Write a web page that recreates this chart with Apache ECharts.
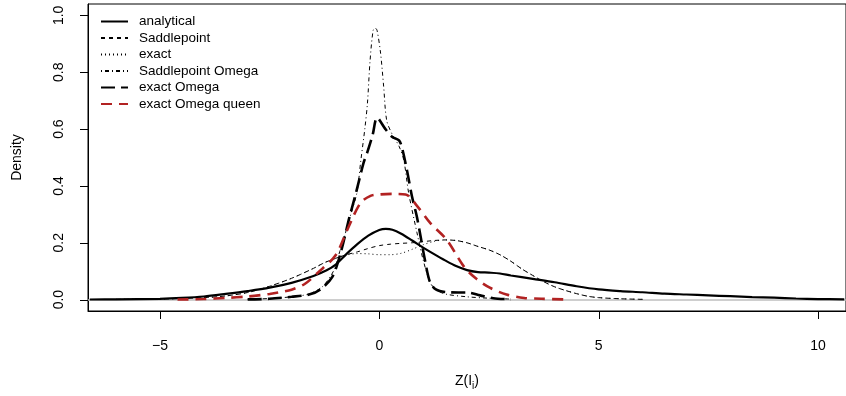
<!DOCTYPE html>
<html>
<head>
<meta charset="utf-8">
<script src="https://cdn.jsdelivr.net/npm/echarts@6/dist/echarts.min.js"></script>
<style>
html,body{margin:0;padding:0;background:#fff;}
#chart{width:846px;height:396px;}
</style>
</head>
<body>
<div id="chart"></div>
<script>
// ---- data ----
const seriesNames = ["analytical", "Saddlepoint", "exact", "Saddlepoint Omega", "exact Omega", "exact Omega queen"];
const xTicks = [-5, 0, 5, 10];
const yTicks = [0, 0.2, 0.4, 0.6, 0.8, 1.0];

const analyticalX = [-6.6,-6,-5,-4.5,-4,-3.5,-3,-2.5,-2,-1.5,-1.2,-1,-0.75,-0.5,-0.25,0,0.15,0.3,0.5,0.75,1,1.25,1.5,1.75,2,2.25,2.5,2.75,3,3.5,4,4.5,5,5.5,6,6.5,7,7.5,8,8.5,9,9.5,10,10.6];
const analyticalY = [0.0005,0.001,0.003,0.006,0.011,0.02,0.03,0.042,0.059,0.083,0.103,0.122,0.16,0.195,0.225,0.245,0.249,0.246,0.232,0.208,0.183,0.16,0.138,0.118,0.104,0.097,0.095,0.092,0.085,0.073,0.061,0.047,0.036,0.03,0.026,0.021,0.018,0.015,0.012,0.009,0.007,0.004,0.002,0.001];

const saddleX = [-6,-5,-4.5,-4,-3.5,-3,-2.5,-2,-1.5,-1.25,-1,-0.75,-0.5,-0.25,0,0.25,0.5,0.75,1,1.25,1.5,1.75,2,2.25,2.5,2.75,3,3.25,3.5,3.75,4,4.25,4.5,4.75,5,5.5,6];
const saddleY = [0.001,0.002,0.004,0.007,0.013,0.025,0.047,0.075,0.11,0.13,0.145,0.158,0.168,0.18,0.19,0.195,0.198,0.2,0.204,0.208,0.21,0.208,0.2,0.187,0.175,0.158,0.135,0.108,0.085,0.063,0.045,0.032,0.021,0.012,0.007,0.003,0.001];

const exactX = [-6,-5,-4.5,-4,-3.5,-3,-2.5,-2,-1.5,-1.25,-1,-0.75,-0.5,-0.25,0,0.25,0.5,0.75,1,1.25,1.5,1.75,2,2.25,2.5,2.75,3,3.25,3.5,3.75,4,4.25,4.5,4.75,5,5.5,6];
const exactY = [0.001,0.002,0.004,0.007,0.013,0.025,0.047,0.075,0.11,0.13,0.145,0.157,0.162,0.161,0.158,0.158,0.163,0.177,0.193,0.205,0.21,0.208,0.2,0.187,0.175,0.158,0.135,0.108,0.085,0.063,0.045,0.032,0.021,0.012,0.007,0.003,0.001];

const saddleOmegaX = [-3,-2.5,-2,-1.6,-1.3,-1.1,-1.0,-0.9,-0.77,-0.65,-0.51,-0.42,-0.33,-0.27,-0.21,-0.14,-0.09,-0.05,0.03,0.1,0.17,0.3,0.45,0.56,0.67,0.86,1.0,1.16,1.3,1.5,2,2.5,3];
const saddleOmegaY = [0.001,0.004,0.01,0.02,0.045,0.085,0.116,0.17,0.235,0.3,0.376,0.49,0.6,0.69,0.84,0.947,0.955,0.947,0.867,0.75,0.63,0.58,0.54,0.49,0.375,0.235,0.14,0.06,0.035,0.02,0.01,0.005,0.002];

const exactOmegaX = [-3,-2.5,-2,-1.6,-1.35,-1.07,-0.88,-0.68,-0.54,-0.36,-0.27,-0.15,-0.05,0.14,0.29,0.45,0.52,0.63,0.75,0.86,1.04,1.16,1.3,1.5,1.8,2.0,2.3,2.6,3];
const exactOmegaY = [0.001,0.003,0.01,0.018,0.035,0.08,0.165,0.29,0.37,0.48,0.52,0.58,0.64,0.6,0.573,0.56,0.533,0.456,0.36,0.29,0.14,0.06,0.035,0.027,0.025,0.025,0.015,0.005,0.001];

const queenX = [-4.6,-4,-3.5,-3,-2.5,-2.3,-2,-1.7,-1.4,-1.0,-0.73,-0.43,-0.2,0,0.3,0.6,0.86,1.16,1.54,1.93,2.2,2.52,2.9,3.3,3.7,4.2];
const queenY = [0.0005,0.002,0.006,0.011,0.02,0.025,0.035,0.055,0.095,0.155,0.245,0.34,0.365,0.37,0.372,0.37,0.33,0.27,0.21,0.116,0.075,0.042,0.018,0.006,0.003,0.001];

// ---- build ----
function pairs(xs, ys){ return xs.map((x,i)=>[x, ys[i]]); }
const FONT = "Liberation Sans, Arial, Helvetica, sans-serif";
const X_MIN = -6.64, X_MAX = 10.64, Y_MIN = -0.04, Y_MAX = 1.04;

const styles = [
  {color:'#000', width:2.2, type:'solid'},
  {color:'#000', width:1, type:[4,4]},
  {color:'#000', width:1, type:[1,3]},
  {color:'#000', width:1, type:[1,3,4,3]},
  {color:'#000', width:2.6, type:[14,6]},
  {color:'#b22222', width:2.6, type:[11,7]}
];
const dataSets = [
  pairs(analyticalX, analyticalY),
  pairs(saddleX, saddleY),
  pairs(exactX, exactY),
  pairs(saddleOmegaX, saddleOmegaY),
  pairs(exactOmegaX, exactOmegaY),
  pairs(queenX, queenY)
];

const series = seriesNames.map((name, i) => {
  const s = {
    name: name,
    type: 'line',
    data: dataSets[i],
    symbol: 'none',
    smooth: 0.3,
    color: styles[i].color,
    lineStyle: {color: styles[i].color, width: styles[i].width, type: styles[i].type},
    emphasis: {disabled: true},
    z: 3 + i
  };
  if (i === 0) {
    s.markLine = {
      silent: true, symbol: 'none', animation: false,
      label: {show: false},
      lineStyle: {color: '#bebebe', width: 1.5, type: 'solid'},
      data: [{yAxis: 0}],
      z: 1
    };
  }
  return s;
});

const chart = echarts.init(document.getElementById('chart'), null, {renderer: 'canvas'});
chart.setOption({
  animation: false,
  backgroundColor: '#fff',
  textStyle: {fontFamily: FONT},
  grid: {left: 88, top: 4, width: 762, height: 308, show: true, borderColor: '#000', borderWidth: 1},
  legend: {
    data: seriesNames,
    orient: 'vertical',
    left: 100, top: 14.5,
    padding: 0,
    itemWidth: 27, itemHeight: 14, itemGap: 2.5,
    itemStyle: {opacity: 0, borderWidth: 0},
    textStyle: {fontFamily: FONT, fontSize: 13.5, color: '#000', padding: [0,0,0,6]},
    selectedMode: false
  },
  xAxis: {
    type: 'value', min: X_MIN, max: X_MAX,
    axisLine: {show: true, onZero: false, lineStyle: {color: '#000', width: 1}},
    splitLine: {show: false},
    axisTick: {show: false},
    axisLabel: {customValues: xTicks, margin: 28, fontSize: 14, color: '#000', fontFamily: FONT,
      formatter: v => String(v).replace('-', '\u2212')},
    name: '{a|Z(I}{s|i}{a|)}',
    nameLocation: 'middle', nameGap: 61,
    nameTextStyle: {rich: {a: {fontSize: 14, color: '#000', fontFamily: FONT}, s: {fontSize: 10, color: '#000', fontFamily: FONT, padding: [9,0,0,0]}}}
  },
  yAxis: {
    type: 'value', min: Y_MIN, max: Y_MAX,
    axisLine: {show: true, onZero: false, lineStyle: {color: '#000', width: 1}},
    splitLine: {show: false},
    axisTick: {show: false},
    axisLabel: {customValues: yTicks, rotate: 90, margin: 22, fontSize: 14, color: '#000', fontFamily: FONT,
      formatter: v => v.toFixed(1)},
    name: 'Density', nameLocation: 'middle', nameGap: 64, nameRotate: 90,
    nameTextStyle: {fontSize: 14, color: '#000', fontFamily: FONT}
  },
  series: series
});

// axis tick marks placed through the chart's own scales
const tickGraphics = [];
xTicks.forEach(v => {
  const p = chart.convertToPixel({gridIndex: 0}, [v, Y_MIN]);
  const x = Math.round(p[0]) + 0.5, y = Math.round(p[1]);
  tickGraphics.push({type: 'line', silent: true, z: 10,
    shape: {x1: x, y1: y, x2: x, y2: y + 8}, style: {stroke: '#000', lineWidth: 1}});
});
yTicks.forEach(v => {
  const p = chart.convertToPixel({gridIndex: 0}, [X_MIN, v]);
  const x = Math.round(p[0]), y = Math.round(p[1]) + 0.5;
  tickGraphics.push({type: 'line', silent: true, z: 10,
    shape: {x1: x - 8, y1: y, x2: x, y2: y}, style: {stroke: '#000', lineWidth: 1}});
});
chart.setOption({graphic: tickGraphics});
</script>
</body>
</html>
